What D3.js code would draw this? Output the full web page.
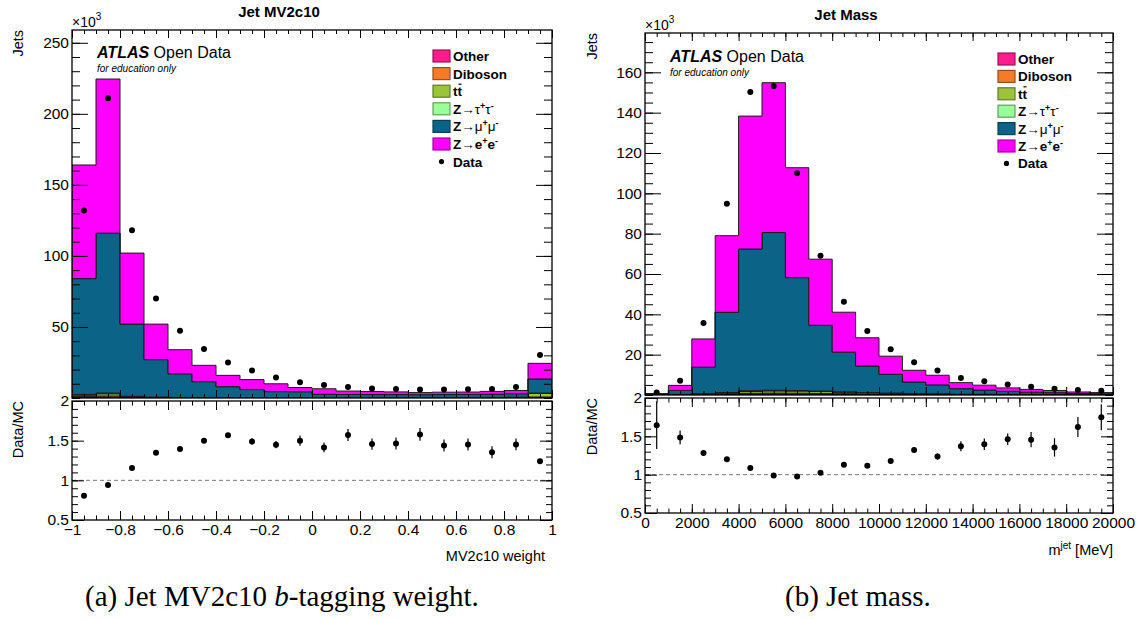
<!DOCTYPE html>
<html><head><meta charset="utf-8">
<script src="https://cdn.jsdelivr.net/npm/d3@7"></script>
<style>
body{margin:0;background:#fff;}
svg{display:block;font-family:"Liberation Sans",Arial,sans-serif;}
</style></head><body>
<svg id="chart" width="1142" height="620"></svg>
<script>
// ---- (a) Jet MV2c10 weight, jets per bin in units of 10^3
var mvEdges = [-1,-0.9,-0.8,-0.7,-0.6,-0.5,-0.4,-0.3,-0.2,-0.1,0,0.1,0.2,0.3,0.4,0.5,0.6,0.7,0.8,0.9,1];
var mvOther   = [0.3,0.4,0.2,0.1,0.1,0.1,0.05,0.05,0.05,0.05,0.05,0.05,0.05,0.05,0.05,0.05,0.05,0.05,0.1,0.3];
var mvDiboson = [0.8,1.0,0.3,0.2,0.1,0.1,0.1,0.1,0.05,0.05,0.05,0.05,0.05,0.05,0.05,0.05,0.05,0.05,0.1,0.4];
var mvTtbar   = [1.0,1.6,0.4,0.2,0.1,0.1,0.1,0.1,0.1,0.1,0.1,0.1,0.1,0.1,0.1,0.1,0.1,0.15,0.3,2.6];
var mvZtautau = [0.4,0.5,0.3,0.2,0.1,0.1,0.1,0.1,0.1,0.1,0.1,0.1,0.1,0.1,0.1,0.1,0.1,0.1,0.1,0.2];
var mvZmumu   = [81.5,112.5,50.8,26.3,16.6,11.1,7.6,5.6,4.2,4.1,2.3,2.2,2.1,2.1,2.0,2.1,2.2,2.3,2.4,9.9];
var mvZee     = [80,108.5,50,25,17,11.5,8,7,5.5,3.0,3.9,2.4,2.2,1.9,1.5,1.7,1.7,2.0,2.3,11];
var mvData    = [132,211,118,70,47.4,34.5,25,19.3,14.5,11.1,9.2,7.7,6.7,6.3,6.0,5.9,6.1,6.3,7.7,30.3];
var mvRatioErr = [0.01,0.01,0.01,0.015,0.02,0.025,0.03,0.04,0.045,0.065,0.06,0.075,0.07,0.075,0.08,0.075,0.075,0.075,0.075,0.03];
var mvXTicks = [-1,-0.8,-0.6,-0.4,-0.2,0,0.2,0.4,0.6,0.8,1];
var mvYTicks = [50,100,150,200,250];

// ---- (b) Jet mass, jets per bin in units of 10^3
var massEdges = [0,1000,2000,3000,4000,5000,6000,7000,8000,9000,10000,11000,12000,13000,14000,15000,16000,17000,18000,19000,20000];
var massOther   = [0.05,0.1,0.2,0.3,0.3,0.35,0.3,0.3,0.25,0.2,0.2,0.15,0.15,0.1,0.1,0.1,0.1,0.1,0.05,0.05];
var massDiboson = [0.02,0.05,0.1,0.2,0.5,0.6,0.6,0.5,0.4,0.3,0.25,0.2,0.15,0.1,0.1,0.08,0.06,0.05,0.04,0.03];
var massTtbar   = [0.01,0.03,0.1,0.3,0.9,1.1,1.1,1.0,0.8,0.6,0.45,0.35,0.25,0.2,0.15,0.12,0.1,0.08,0.06,0.05];
var massZtautau = [0.05,0.1,0.3,0.4,0.4,0.3,0.2,0.15,0.1,0.08,0.06,0.05,0.04,0.03,0.02,0.02,0.02,0.02,0.01,0.01];
var massZmumu   = [0.3,2.0,13.1,39.8,70.3,78.2,56.0,32.6,19.7,13.2,9.3,5.7,4.4,2.7,2.1,1.5,1.1,0.9,0.6,0.5];
var massZee     = [0.3,2.5,14,38,65.9,74.3,54.5,32.8,19.8,14,9,5.8,4.8,3.0,2.4,1.7,1.4,1.1,0.75,0.55];
var massData    = [1.2,7.1,35.7,94.8,150.2,153.2,109.9,69.1,46.3,31.7,22.7,16.2,12.1,8.4,6.8,5.15,4.05,3.05,2.45,2.08];
var massRatioErr = [0.31,0.09,0.02,0.01,0.01,0.01,0.01,0.02,0.02,0.02,0.02,0.03,0.04,0.065,0.075,0.075,0.1,0.12,0.13,0.17];
var massXTicks = [0,2000,4000,6000,8000,10000,12000,14000,16000,18000,20000];
var massYTicks = [20,40,60,80,100,120,140,160];

var ratioTicks = [0.5,1,1.5,2];

// stack order, bottom to top
var keys = ["other","diboson","ttbar","ztautau","zmumu","zee"];
var colors = {
  other: "#fc1c8e", diboson: "#f77b26", ttbar: "#9bc43a",
  ztautau: "#99ff99", zmumu: "#0b6487", zee: "#ff00ff"
};

var svg = d3.select("#chart");
var clipId = 0;

function styleAxis(sel, fs) {
  sel.select(".domain").remove();
  sel.attr("font-family", null).attr("font-size", null);
  sel.selectAll("line").attr("stroke", "#000");
  sel.selectAll("text").attr("fill", "#000").style("font-size", fs + "px");
}

function addClip(x0, y0, w, h) {
  clipId++;
  svg.append("clipPath").attr("id", "c" + clipId)
    .append("rect").attr("x", x0).attr("y", y0).attr("width", w).attr("height", h);
  return "url(#c" + clipId + ")";
}

function drawPanel(p) {
  var g = svg.append("g");
  var nb = p.edges.length - 1;
  var x = d3.scaleLinear().domain([p.edges[0], p.edges[nb]]).range([p.x0, p.x1]);
  var y = d3.scaleLinear().domain([0, p.yMax]).range([p.mainBot, p.mainTop]);
  var yr = d3.scaleLinear().domain([0.5, 2]).range([p.ratBot, p.ratTop]);

  var rows = d3.range(nb).map(function(i) {
    return { other: p.other[i], diboson: p.diboson[i], ttbar: p.ttbar[i],
             ztautau: p.ztautau[i], zmumu: p.zmumu[i], zee: p.zee[i] };
  });
  var series = d3.stack().keys(keys)(rows);

  var area = d3.area()
    .x(function(d) { return x(d.x); })
    .y0(function(d) { return y(d.s[0]); })
    .y1(function(d) { return y(d.s[1]); });

  var mainClip = addClip(p.x0, p.mainTop, p.x1 - p.x0, p.mainBot - p.mainTop);
  var hg = g.append("g").attr("clip-path", mainClip);
  series.forEach(function(s) {
    var pts = [];
    s.forEach(function(d, i) {
      pts.push({ x: p.edges[i], s: d });
      pts.push({ x: p.edges[i + 1], s: d });
    });
    hg.append("path").datum(pts)
      .attr("d", area)
      .attr("fill", colors[s.key])
      .attr("stroke", "#1b1b1b")
      .attr("stroke-width", 1);
  });

  var centers = d3.range(nb).map(function(i) { return (p.edges[i] + p.edges[i + 1]) / 2; });
  var totals = series[series.length - 1].map(function(d) { return d[1]; });

  hg.selectAll("circle.data").data(p.data).enter().append("circle")
    .attr("cx", function(d, i) { return x(centers[i]); })
    .attr("cy", function(d) { return y(d); })
    .attr("r", 3).attr("fill", "#000");

  // ratio panel
  var ratClip = addClip(p.x0, p.ratTop, p.x1 - p.x0, p.ratBot - p.ratTop);
  var rg = g.append("g").attr("clip-path", ratClip);
  rg.append("line")
    .attr("x1", p.x0).attr("x2", p.x1)
    .attr("y1", yr(1)).attr("y2", yr(1))
    .attr("stroke", "#777").attr("stroke-dasharray", "4,3").attr("stroke-width", 1);
  var ratios = p.data.map(function(d, i) { return d / totals[i]; });
  rg.selectAll("line.err").data(ratios).enter().append("line")
    .attr("x1", function(d, i) { return x(centers[i]); })
    .attr("x2", function(d, i) { return x(centers[i]); })
    .attr("y1", function(d, i) { return yr(d - p.ratioErr[i]); })
    .attr("y2", function(d, i) { return yr(d + p.ratioErr[i]); })
    .attr("stroke", "#000").attr("stroke-width", 1.2);
  rg.selectAll("circle.r").data(ratios).enter().append("circle")
    .attr("cx", function(d, i) { return x(centers[i]); })
    .attr("cy", function(d) { return yr(d); })
    .attr("r", 3).attr("fill", "#000");

  // axes (ROOT style ticks inside on all four sides)
  var w = p.edges[nb] - p.edges[0];
  var xMinor = d3.range(0, 41).map(function(i) { return p.edges[0] + i * w / 40; });
  var yMinor = d3.range(0, Math.floor(p.yMax / p.yMinorStep) + 1).map(function(i) { return i * p.yMinorStep; });
  var rMinor = d3.range(5, 21).map(function(i) { return i / 10; });

  function ax(fn, scale, vals, size, tx, ty, fmt, fs, pad) {
    var a = fn(scale).tickValues(vals).tickSize(size).tickSizeOuter(0).tickPadding(pad || 3)
      .tickFormat(fmt || "");
    g.append("g").attr("transform", "translate(" + tx + "," + ty + ")").call(a).call(styleAxis, fs || 15);
  }
  // main pad
  ax(d3.axisLeft, y, p.yTicks, -16, p.x0, 0, d3.format("d"), 15.5, 3);
  ax(d3.axisLeft, y, yMinor, -8, p.x0, 0);
  ax(d3.axisRight, y, p.yTicks, -16, p.x1, 0);
  ax(d3.axisRight, y, yMinor, -8, p.x1, 0);
  ax(d3.axisBottom, x, p.xTicks, -8, 0, p.mainBot);
  ax(d3.axisBottom, x, xMinor, -4, 0, p.mainBot);
  ax(d3.axisTop, x, p.xTicks, -8, 0, p.mainTop);
  ax(d3.axisTop, x, xMinor, -4, 0, p.mainTop);
  // ratio pad
  ax(d3.axisLeft, yr, ratioTicks, -12, p.x0, 0, function(d) { return String(d); }, 15.5, 3);
  ax(d3.axisLeft, yr, rMinor, -6, p.x0, 0);
  ax(d3.axisRight, yr, ratioTicks, -12, p.x1, 0);
  ax(d3.axisRight, yr, rMinor, -6, p.x1, 0);
  ax(d3.axisBottom, x, p.xTicks, -9, 0, p.ratBot, p.xFmt, 15.5, 4);
  ax(d3.axisBottom, x, xMinor, -4.5, 0, p.ratBot);
  ax(d3.axisTop, x, p.xTicks, -9, 0, p.ratTop);
  ax(d3.axisTop, x, xMinor, -4.5, 0, p.ratTop);

  // frames
  [[p.mainTop, p.mainBot], [p.ratTop, p.ratBot]].forEach(function(f) {
    g.append("rect").attr("x", p.x0).attr("y", f[0])
      .attr("width", p.x1 - p.x0).attr("height", f[1] - f[0])
      .attr("fill", "none").attr("stroke", "#000").attr("stroke-width", 1.3);
  });

  // titles and labels
  g.append("text").attr("x", p.titleX).attr("y", p.titleY).attr("text-anchor", "middle")
    .attr("font-weight", "bold").attr("font-size", 15).text(p.title);

  var e3 = g.append("text").attr("x", p.x0).attr("y", p.mainTop - 3).attr("font-size", 14);
  e3.append("tspan").text("\u00d710");
  e3.append("tspan").attr("dy", -7).attr("font-size", 10).text("3");

  g.append("text").attr("transform", "translate(" + p.ylabX + "," + p.mainTop + ") rotate(-90)")
    .attr("text-anchor", "end").attr("font-size", 14.5).text("Jets");
  g.append("text").attr("transform", "translate(" + p.ylabX + "," + p.ratTop + ") rotate(-90)")
    .attr("text-anchor", "end").attr("font-size", 14.5).text("Data/MC");

  var xt = g.append("text").attr("x", p.xTitleX).attr("y", p.xTitleY)
    .attr("text-anchor", "end").attr("font-size", 14.5);
  p.xTitle(xt);

  var at = g.append("text").attr("x", p.x0 + 25).attr("y", p.atlasY).attr("font-size", 16);
  at.append("tspan").attr("font-weight", "bold").attr("font-style", "italic").text("ATLAS");
  at.append("tspan").text(" Open Data");
  g.append("text").attr("x", p.x0 + 25).attr("y", p.atlasY + 14).attr("font-size", 10)
    .attr("font-style", "italic").text("for education only");

  // legend
  var leg = [
    { key: "other", lab: function(t) { t.append("tspan").text("Other"); } },
    { key: "diboson", lab: function(t) { t.append("tspan").text("Diboson"); } },
    { key: "ttbar", lab: function(t) { t.append("tspan").text("tt"); } },
    { key: "ztautau", lab: function(t) { zlab(t, "\u03c4", false); } },
    { key: "zmumu", lab: function(t) { zlab(t, "\u03bc", false); } },
    { key: "zee", lab: function(t) { zlab(t, "e", true); } },
    { key: "data", lab: function(t) { t.append("tspan").text("Data"); } }
  ];
  leg.forEach(function(l, i) {
    var cy = p.legY + i * p.legStep;
    if (l.key === "data") {
      g.append("circle").attr("cx", p.legX + 8.5).attr("cy", cy).attr("r", 2.6).attr("fill", "#000");
    } else {
      g.append("rect").attr("x", p.legX).attr("y", cy - 6).attr("width", 17).attr("height", 12)
        .attr("fill", colors[l.key]).attr("stroke", d3.color(colors[l.key]).darker(1.3)).attr("stroke-width", 1.2);
    }
    var t = g.append("text").attr("x", p.legX + 20).attr("y", cy + 5)
      .attr("font-weight", "bold").attr("font-size", 13.5);
    l.lab(t);
    if (l.key === "ttbar") {
      var n = t.node();
      var s = n.getStartPositionOfChar(1), e = n.getEndPositionOfChar(1);
      g.append("line").attr("x1", s.x + 1).attr("x2", e.x - 0.5)
        .attr("y1", cy - 7).attr("y2", cy - 7).attr("stroke", "#000").attr("stroke-width", 1.2);
    }
  });
}

function zlab(t, sym, bold) {
  t.append("tspan").text("Z");
  t.append("tspan").attr("font-weight", "normal").text("\u2192");
  t.append("tspan").attr("font-weight", bold ? "bold" : "normal").text(sym);
  t.append("tspan").attr("font-size", 9).attr("dy", -5).text("+");
  t.append("tspan").attr("font-weight", bold ? "bold" : "normal").attr("dy", 5).text(sym);
  t.append("tspan").attr("font-size", 9).attr("dy", -5).text("-");
}

drawPanel({
  edges: mvEdges, other: mvOther, diboson: mvDiboson, ttbar: mvTtbar, ztautau: mvZtautau,
  zmumu: mvZmumu, zee: mvZee, data: mvData, ratioErr: mvRatioErr,
  xTicks: mvXTicks, yTicks: mvYTicks, yMinorStep: 10, xFmt: d3.format("~g"),
  x0: 72, x1: 552, mainTop: 30, mainBot: 398, ratTop: 401, ratBot: 520, yMax: 259,
  title: "Jet MV2c10", titleX: 279, titleY: 17, ylabX: 23,
  xTitleX: 545, xTitleY: 561,
  xTitle: function(t) { t.text("MV2c10 weight"); },
  atlasY: 58, legX: 433, legY: 56, legStep: 17.6
});

drawPanel({
  edges: massEdges, other: massOther, diboson: massDiboson, ttbar: massTtbar, ztautau: massZtautau,
  zmumu: massZmumu, zee: massZee, data: massData, ratioErr: massRatioErr,
  xTicks: massXTicks, yTicks: massYTicks, yMinorStep: 5, xFmt: d3.format("d"),
  x0: 645, x1: 1113, mainTop: 33, mainBot: 395, ratTop: 398, ratBot: 513, yMax: 179.5,
  title: "Jet Mass", titleX: 846, titleY: 20, ylabX: 597,
  xTitleX: 1113, xTitleY: 555,
  xTitle: function(t) {
    t.append("tspan").text("m");
    t.append("tspan").attr("font-size", 10).attr("dy", -6).text("jet");
    t.append("tspan").attr("dy", 6).text(" [MeV]");
  },
  atlasY: 62, legX: 998, legY: 59, legStep: 17.4
});

// captions
var capA = svg.append("text").attr("x", 85).attr("y", 606)
  .attr("font-family", "Liberation Serif, Times New Roman, serif").attr("font-size", 29);
capA.append("tspan").text("(a) Jet MV2c10 ");
capA.append("tspan").attr("font-style", "italic").text("b");
capA.append("tspan").text("-tagging weight.");
svg.append("text").attr("x", 785).attr("y", 606)
  .attr("font-family", "Liberation Serif, Times New Roman, serif").attr("font-size", 29)
  .text("(b) Jet mass.");
</script>
</body></html>
